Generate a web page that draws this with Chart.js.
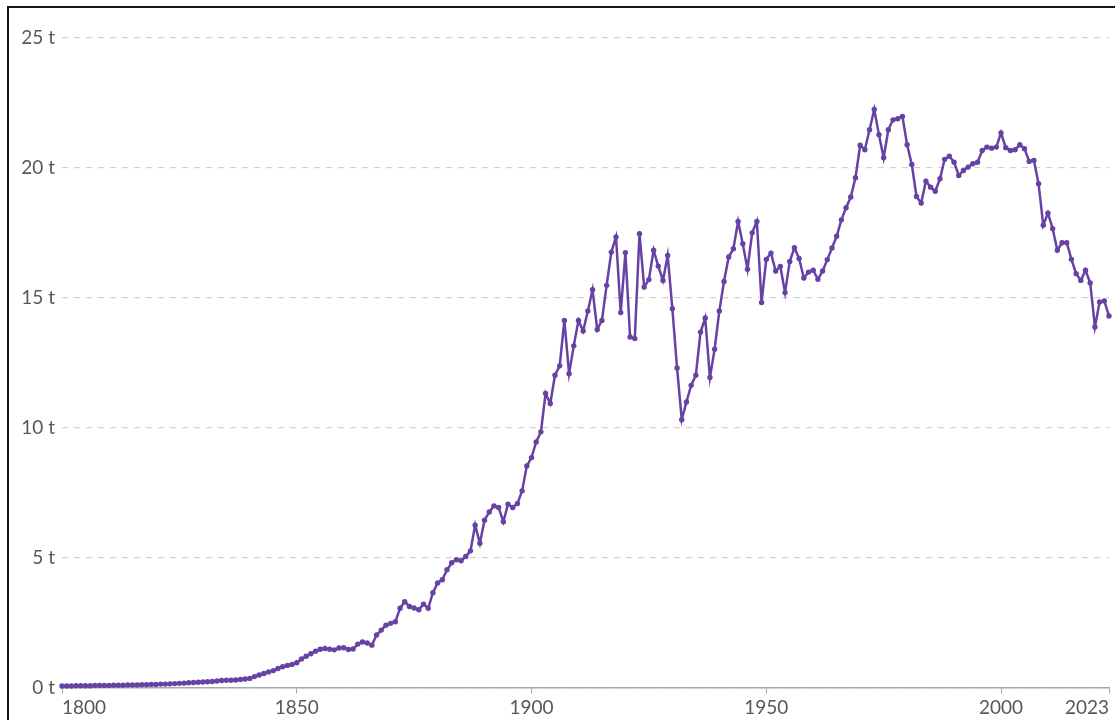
<!DOCTYPE html>
<html>
<head>
<meta charset="utf-8">
<script src="https://cdn.jsdelivr.net/npm/chart.js@4"></script>
<style>
  html, body { margin: 0; padding: 0; background: #fff; overflow: hidden; }
  #wrap { position: relative; width: 1115px; height: 720px; }
  #frame {
    position: absolute; left: 7px; top: 6px; width: 1200px; height: 800px;
    border-top: 2px solid #151515; border-left: 2px solid #151515;
    pointer-events: none;
  }
  canvas { position: absolute; left: 0; top: 0; }
</style>
</head>
<body>
<div id="wrap">
  <canvas id="chart" width="1115" height="720"></canvas>
  <div id="frame"></div>
</div>
<script>
const firstYear = 1800;
const lastYear = 2023;

// tonnes per person, one value a year
const emissions = [
  0.06, 0.06, 0.06, 0.07, 0.07, 0.07, 0.07, 0.08, 0.08, 0.08, // 1800
  0.08, 0.09, 0.09, 0.09, 0.10, 0.10, 0.10, 0.11, 0.11, 0.12, // 1810
  0.12, 0.13, 0.13, 0.14, 0.15, 0.16, 0.17, 0.18, 0.19, 0.20, // 1820
  0.21, 0.22, 0.23, 0.25, 0.27, 0.28, 0.28, 0.29, 0.31, 0.33, // 1830
  0.35, 0.42, 0.48, 0.54, 0.60, 0.65, 0.73, 0.80, 0.85, 0.89, // 1840
  0.95, 1.10, 1.20, 1.30, 1.40, 1.47, 1.50, 1.47, 1.45, 1.52, // 1850
  1.53, 1.46, 1.48, 1.67, 1.75, 1.71, 1.63, 2.02, 2.21, 2.40, // 1860
  2.47, 2.53, 3.05, 3.30, 3.12, 3.06, 2.99, 3.21, 3.05, 3.65, // 1870
  4.02, 4.15, 4.53, 4.80, 4.92, 4.88, 5.04, 5.26, 6.25, 5.55, // 1880
  6.44, 6.76, 6.99, 6.93, 6.38, 7.06, 6.93, 7.08, 7.57, 8.53, // 1890
  8.85, 9.45, 9.84, 11.32, 10.93, 12.02, 12.38, 14.13, 12.08, 13.15, // 1900
  14.13, 13.72, 14.49, 15.31, 13.78, 14.13, 15.48, 16.76, 17.34, 14.43, // 1910
  16.74, 13.49, 13.43, 17.47, 15.42, 15.70, 16.83, 16.22, 15.67, 16.63, // 1920
  14.58, 12.30, 10.31, 10.99, 11.63, 12.02, 13.68, 14.22, 11.93, 13.02, // 1930
  14.49, 15.63, 16.57, 16.89, 17.94, 17.08, 16.10, 17.50, 17.94, 14.82, // 1940
  16.48, 16.72, 16.03, 16.21, 15.20, 16.40, 16.93, 16.51, 15.76, 15.99, // 1950
  16.06, 15.71, 16.03, 16.47, 16.92, 17.37, 18.00, 18.47, 18.88, 19.62, // 1960
  20.87, 20.70, 21.47, 22.25, 21.28, 20.39, 21.47, 21.85, 21.89, 21.98, // 1970
  20.89, 20.13, 18.90, 18.65, 19.49, 19.26, 19.10, 19.58, 20.33, 20.45, // 1980
  20.22, 19.71, 19.90, 20.03, 20.16, 20.22, 20.67, 20.80, 20.76, 20.80, // 1990
  21.35, 20.78, 20.67, 20.70, 20.89, 20.74, 20.25, 20.29, 19.39, 17.79, // 2000
  18.26, 17.66, 16.83, 17.12, 17.12, 16.48, 15.93, 15.67, 16.06, 15.57, // 2010
  13.88, 14.84, 14.88, 14.30                                            // 2020
];

const tickYears = [1800, 1850, 1900, 1950, 2000, 2023];
const yTicks = [0, 5, 10, 15, 20, 25];

const lineColor = '#6841a5';
const labelColor = '#585858';
const labelFont = { family: 'Lato', size: 19 };

const points = emissions.map((v, i) => ({ x: firstYear + i, y: v }));

// first label sits left of its tick, last one right, like the original
const xLabels = {
  id: 'xLabels',
  afterDraw(chart) {
    const scale = chart.scales.x;
    const ctx = chart.ctx;
    ctx.save();
    ctx.font = labelFont.size + 'px ' + labelFont.family;
    ctx.fillStyle = labelColor;
    ctx.textBaseline = 'middle';
    scale.ticks.forEach((tick, i) => {
      const x = scale.getPixelForValue(tick.value);
      if (i === 0) ctx.textAlign = 'left';
      else if (i === scale.ticks.length - 1) ctx.textAlign = 'right';
      else ctx.textAlign = 'center';
      ctx.fillText(String(tick.value), x, scale.top + 20);
    });
    ctx.restore();
  }
};

new Chart(document.getElementById('chart'), {
  type: 'line',
  data: {
    datasets: [{
      data: points,
      borderColor: lineColor,
      backgroundColor: lineColor,
      borderWidth: 2.5,
      pointRadius: 2.7,
      pointBorderWidth: 0,
      pointHoverRadius: 3,
      tension: 0,
      clip: 6
    }]
  },
  options: {
    responsive: false,
    animation: false,
    devicePixelRatio: 1,
    layout: { padding: { left: 0, top: 38, right: 6, bottom: 0 } },
    plugins: {
      legend: { display: false },
      tooltip: { enabled: false }
    },
    scales: {
      x: {
        type: 'linear',
        min: firstYear,
        max: lastYear,
        afterBuildTicks: scale => {
          scale.ticks = tickYears.map(v => ({ value: v }));
        },
        afterFit: scale => { scale.height = 32.5; },
        ticks: { display: false },
        grid: {
          drawOnChartArea: false,
          drawTicks: true,
          tickLength: 6,
          color: '#a8a8a8'
        },
        border: { display: true, color: '#a8a8a8', width: 1.5 }
      },
      y: {
        min: 0,
        max: 25,
        afterBuildTicks: scale => {
          scale.ticks = yTicks.map(v => ({ value: v }));
        },
        afterFit: scale => { scale.width = 62; },
        ticks: {
          padding: 7,
          color: labelColor,
          font: labelFont,
          callback: v => v + ' t'
        },
        grid: {
          drawTicks: false,
          color: '#d2d2d2',
          lineWidth: 1.2
        },
        border: { display: false, dash: [6, 6] }
      }
    }
  },
  plugins: [xLabels]
});
</script>
</body>
</html>
